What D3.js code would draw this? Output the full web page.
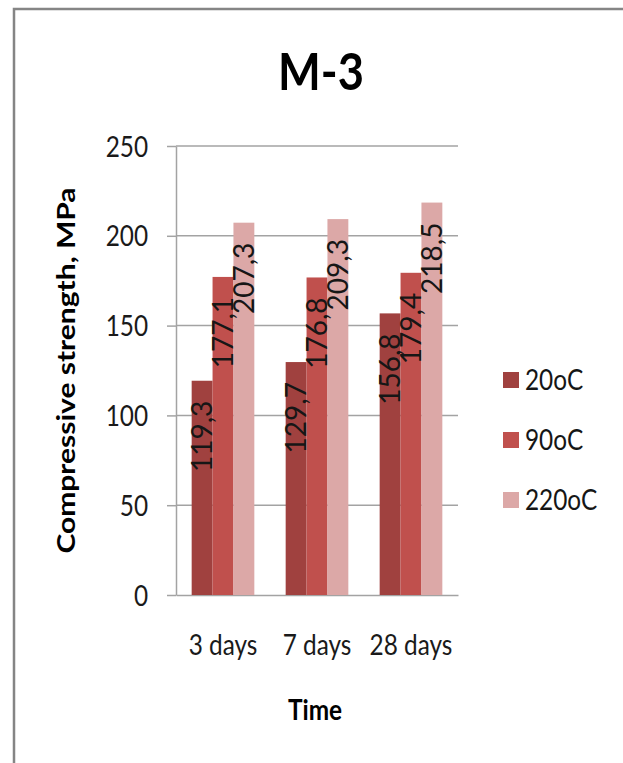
<!DOCTYPE html>
<html>
<head>
<meta charset="utf-8">
<script src="https://cdn.jsdelivr.net/npm/d3@7"></script>
<style>
  body { margin: 0; background: #fff; }
  text { font-family: Lato, "Noto Sans", sans-serif; fill: #161616; }
</style>
</head>
<body>
<svg id="chart" width="623" height="763"></svg>
<script>
// Compressive strength of mix M-3 by curing age and temperature
const categories = ["3 days", "7 days", "28 days"];
const seriesNames = ["20oC", "90oC", "220oC"];
const values20 = [119.3, 129.7, 156.8];
const values90 = [177.1, 176.8, 179.4];
const values220 = [207.3, 209.3, 218.5];
const yTicks = [0, 50, 100, 150, 200, 250];
const seriesColors = ["#A0413F", "#C0504D", "#DCA8A7"];

const series = [values20, values90, values220];
const SX = 0.87; // horizontal squeeze applied to upright text

const svg = d3.select("#chart");
const plot = { left: 176, right: 458, top: 146, bottom: 595 };

// outer frame
svg.append("rect")
  .attr("x", 14).attr("y", 9).attr("width", 700).attr("height", 800)
  .attr("fill", "none").attr("stroke", "#858585").attr("stroke-width", 2.5);

const x0 = d3.scaleBand().domain(categories)
  .range([plot.left, plot.right]).paddingInner(1 / 3).paddingOuter(1 / 6);
const x1 = d3.scaleBand().domain(seriesNames).range([0, x0.bandwidth()]);
const y = d3.scaleLinear().domain([0, 250]).range([plot.bottom, plot.top]);

const comma = d3.formatLocale({ decimal: ",", thousands: " ", grouping: [3], currency: ["", ""] }).format(".1f");

// horizontal gridlines
svg.append("g").selectAll("line").data(yTicks.filter(t => t > 0)).join("line")
  .attr("x1", plot.left).attr("x2", plot.right)
  .attr("y1", d => y(d)).attr("y2", d => y(d))
  .attr("stroke", "#a3a3a3").attr("stroke-width", 1.5);

// y axis
const yAxis = svg.append("g").attr("transform", `translate(${plot.left},0)`)
  .call(d3.axisLeft(y).tickValues(yTicks).tickSize(9).tickSizeOuter(0));
yAxis.select(".domain").attr("stroke", "#a3a3a3").attr("stroke-width", 1.5);
yAxis.selectAll(".tick line").attr("stroke", "#a3a3a3").attr("stroke-width", 1.5);
yAxis.selectAll(".tick text")
  .attr("x", -28 / SX).attr("dy", "0.36em")
  .attr("transform", `scale(${SX},1)`)
  .attr("font-size", 28).attr("font-family", "Lato, 'Noto Sans', sans-serif")
  .style("fill", "#1a1a1a");

// x axis
const xAxis = svg.append("g").attr("transform", `translate(0,${plot.bottom})`)
  .call(d3.axisBottom(x0).tickSize(0).tickSizeOuter(0));
xAxis.select(".domain").attr("stroke", "#a3a3a3").attr("stroke-width", 1.5);
xAxis.selectAll(".tick text")
  .attr("y", 60).attr("dy", 0).attr("x", 0)
  .attr("transform", `scale(${SX},1)`)
  .attr("font-size", 28).attr("font-family", "Lato, 'Noto Sans', sans-serif")
  .style("fill", "#1a1a1a");

// bars
const groups = svg.append("g").selectAll("g").data(categories).join("g")
  .attr("transform", c => `translate(${x0(c)},0)`);

groups.selectAll("rect")
  .data((c, ci) => series.map((s, si) => ({ name: seriesNames[si], value: s[ci], color: seriesColors[si] })))
  .join("rect")
  .attr("x", d => x1(d.name))
  .attr("y", d => y(d.value))
  .attr("width", x1.bandwidth())
  .attr("height", d => y(0) - y(d.value))
  .attr("fill", d => d.color);

// value labels, rotated
groups.selectAll("text.val")
  .data((c, ci) => series.map((s, si) => ({ name: seriesNames[si], value: s[ci] })))
  .join("text")
  .attr("class", "val")
  .attr("transform", d => `translate(${x1(d.name) + x1.bandwidth() / 2},${y(d.value) + 20}) rotate(-90)`)
  .attr("text-anchor", "end")
  .attr("dy", "0.36em")
  .attr("font-size", 28)
  .text(d => comma(d.value));

// legend
const legend = svg.append("g").selectAll("g").data(seriesNames).join("g")
  .attr("transform", (d, i) => `translate(503,${380 + i * 60})`);
legend.append("rect")
  .attr("x", 0).attr("y", -8).attr("width", 16).attr("height", 16)
  .attr("fill", (d, i) => seriesColors[i]);
legend.append("text")
  .attr("transform", `translate(22,10) scale(${SX},1)`)
  .attr("font-size", 28)
  .text(d => d);

// title
svg.append("text")
  .attr("transform", `translate(321,90) scale(${SX},1)`)
  .attr("text-anchor", "middle")
  .attr("font-size", 52).attr("font-weight", "bold")
  .style("fill", "#000")
  .text("M-3");

// axis titles
svg.append("text")
  .attr("transform", `translate(315,720) scale(${SX},1)`)
  .attr("text-anchor", "middle")
  .attr("font-size", 28).attr("font-weight", "bold")
  .style("fill", "#000")
  .text("Time");

svg.append("text")
  .attr("transform", `translate(75,${(plot.top + plot.bottom) / 2}) scale(0.8,1) rotate(-90)`)
  .attr("text-anchor", "middle")
  .attr("font-size", 30).attr("font-weight", "bold")
  .style("fill", "#000")
  .text("Compressive strength, MPa");
</script>
</body>
</html>
